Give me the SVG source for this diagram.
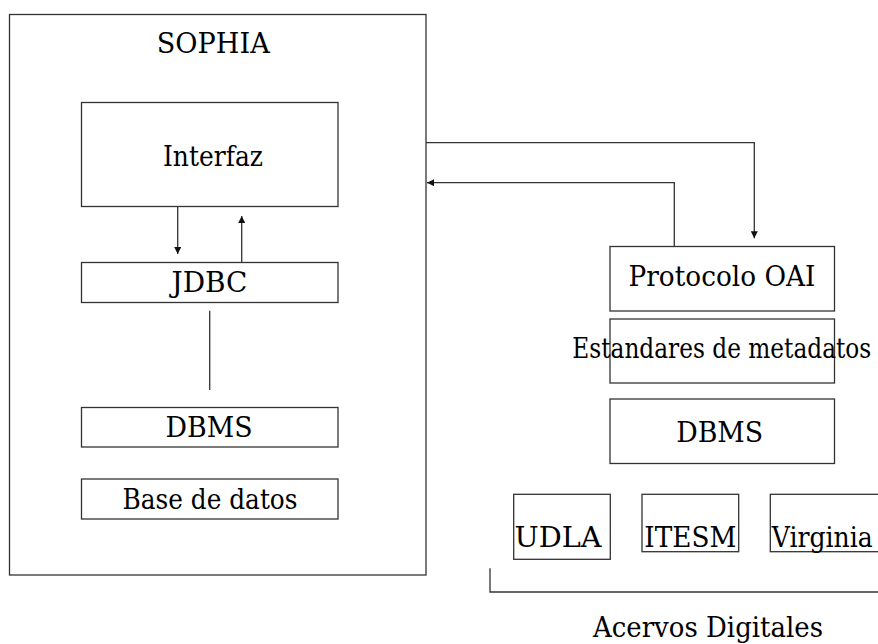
<svg xmlns="http://www.w3.org/2000/svg" width="878" height="644" viewBox="0 0 878 644">
<style>
.box{fill:#fff;stroke:#333;stroke-width:1.3}
.ln{fill:none;stroke:#333;stroke-width:1.3}
.t{font-family:'DejaVu Serif',serif;font-size:27px;fill:#000}
.m{text-anchor:middle}
</style>
<defs>
<marker id="ah" viewBox="0 0 10 10" refX="10" refY="5" markerWidth="7" markerHeight="7" markerUnits="userSpaceOnUse" orient="auto">
<path d="M0,0 L10,5 L0,10 Z" fill="#111"/>
</marker>
</defs>
<rect x="0" y="0" width="878" height="644" fill="#fff"/>
<g id="sophia">
<rect class="box" x="9.5" y="14.5" width="416.5" height="560.5"/>
<text class="t m" x="213.3" y="53" textLength="113" lengthAdjust="spacingAndGlyphs">SOPHIA</text>
</g>
<g id="interfaz">
<rect class="box" x="81.5" y="102.5" width="256.5" height="104"/>
<text class="t m" x="213" y="165.5" textLength="100" lengthAdjust="spacingAndGlyphs">Interfaz</text>
</g>
<g id="jdbc">
<rect class="box" x="81.5" y="262.5" width="256.5" height="40"/>
<text class="t m" x="209.5" y="292" textLength="76" lengthAdjust="spacingAndGlyphs">JDBC</text>
</g>
<g id="dbms-sophia">
<rect class="box" x="81.5" y="407.5" width="256.5" height="39.5"/>
<text class="t m" x="209" y="436.5" textLength="87" lengthAdjust="spacingAndGlyphs">DBMS</text>
</g>
<g id="base-datos">
<rect class="box" x="81.5" y="479" width="256.5" height="40"/>
<text class="t m" x="210" y="509" textLength="175" lengthAdjust="spacingAndGlyphs">Base de datos</text>
</g>
<g id="protocolo">
<rect class="box" x="610" y="246.5" width="224.5" height="64.5"/>
<text class="t m" x="722" y="285.5" textLength="187" lengthAdjust="spacingAndGlyphs">Protocolo OAI</text>
</g>
<g id="estandares">
<rect class="box" x="610" y="319" width="224.5" height="64"/>
<text class="t" x="572.3" y="358.3" textLength="299" lengthAdjust="spacingAndGlyphs">Estandares de metadatos</text>
</g>
<g id="dbms-oai">
<rect class="box" x="610" y="399" width="224.5" height="64.5"/>
<text class="t m" x="719.7" y="441.5" textLength="87" lengthAdjust="spacingAndGlyphs">DBMS</text>
</g>
<g id="udla">
<rect class="box" x="513.7" y="494.3" width="96.6" height="65"/>
<text class="t m" x="558" y="547" textLength="87" lengthAdjust="spacingAndGlyphs">UDLA</text>
</g>
<g id="itesm">
<rect class="box" x="642" y="494.3" width="96.7" height="57.4"/>
<text class="t m" x="690.3" y="547" textLength="92" lengthAdjust="spacingAndGlyphs">ITESM</text>
</g>
<g id="virginia">
<rect class="box" x="770.3" y="494.3" width="120" height="57.4"/>
<text class="t" x="771.7" y="547" textLength="101" lengthAdjust="spacingAndGlyphs">Virginia</text>
</g>
<g id="acervos">
<path class="ln" d="M490,568.3 V592 H880"/>
<text class="t m" x="708" y="637" textLength="230" lengthAdjust="spacingAndGlyphs">Acervos Digitales</text>
</g>
<g id="connectors">
<line class="ln" x1="177.7" y1="206.7" x2="177.7" y2="254" marker-end="url(#ah)"/>
<line class="ln" x1="241.7" y1="262.7" x2="241.7" y2="216" marker-end="url(#ah)"/>
<line class="ln" x1="209.7" y1="310.7" x2="209.7" y2="390"/>
<path class="ln" d="M426,142.7 H754.3 V238.3" marker-end="url(#ah)"/>
<path class="ln" d="M674.3,246.7 V182.7 H427" marker-end="url(#ah)"/>
</g>
</svg>
